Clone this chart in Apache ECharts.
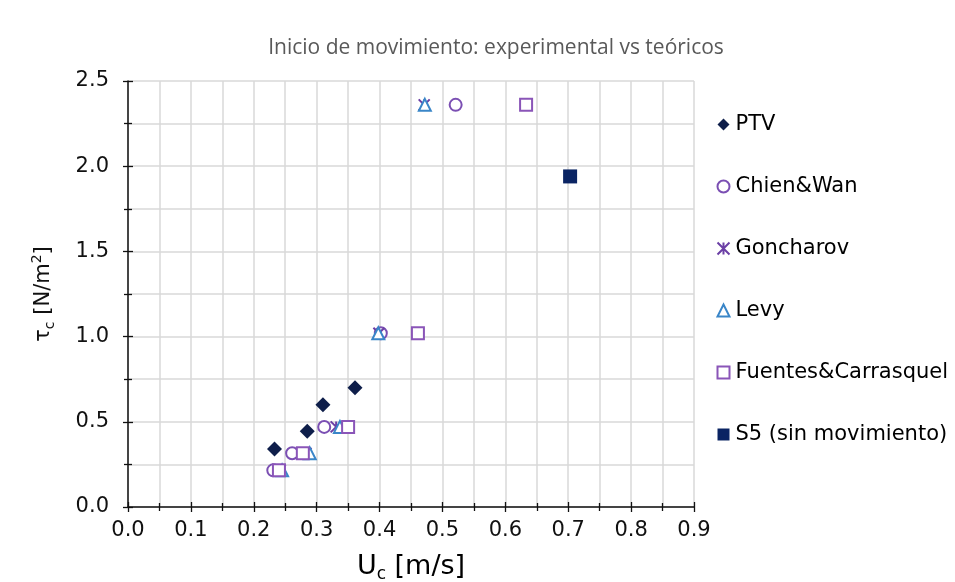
<!DOCTYPE html>
<html><head><meta charset="utf-8">
<script src="https://cdn.jsdelivr.net/npm/echarts@6/dist/echarts.min.js"></script>
<style>html,body{margin:0;padding:0;background:#fff}#c{width:955px;height:582px}</style>
</head><body><div id="c"></div>
<script>
const seriesNames = ['PTV','Chien&Wan','Goncharov','Levy','Fuentes&Carrasquel','S5 (sin movimiento)'];
const ptv = [[0.233,0.34],[0.285,0.445],[0.31,0.60],[0.361,0.70]];
const chienWan = [[0.521,2.36],[0.402,1.02],[0.312,0.47],[0.261,0.315],[0.231,0.215]];
const goncharov = [[0.471,2.36],[0.399,1.02],[0.331,0.47],[0.283,0.315],[0.242,0.215]];
const levy = [[0.472,2.36],[0.398,1.02],[0.337,0.47],[0.289,0.315],[0.245,0.215]];
const fuentes = [[0.633,2.36],[0.461,1.02],[0.350,0.47],[0.278,0.315],[0.240,0.215]];
const s5 = [[0.703,1.94]];
const xTicks = {min:0,max:0.9,interval:0.1};
const yTicks = {min:0,max:2.5,interval:0.5};

const font = 'DejaVu Sans';
const chart = echarts.init(document.getElementById('c'));
const starPath = 'path://M0,0L10,10M10,0L0,10M5,0L5,10';
chart.setOption({
  animation:false,
  title:{text:'Inicio de movimiento: experimental vs teóricos',left:491,top:33,textAlign:'center',
    textStyle:{fontFamily:'Open Sans',fontWeight:'normal',fontSize:21,color:'#595959'}},
  grid:{left:128,right:261,top:81,bottom:75,outerBoundsMode:'none',containLabel:false},
  legend:{orient:'vertical',left:710,top:109,itemGap:41,itemWidth:12,itemHeight:12,
    textStyle:{fontFamily:font,fontSize:21,color:'#000',padding:[0,0,0,1]},data:seriesNames},
  xAxis:[{type:'value',min:xTicks.min,max:xTicks.max,interval:xTicks.interval,
    name:'U{sub|c} [m/s]',nameLocation:'middle',nameGap:43,
    nameTextStyle:{fontFamily:font,fontSize:27,color:'#000',rich:{sub:{fontSize:17,verticalAlign:'bottom',padding:[16,0,0,0],fontFamily:font}}},
    axisLine:{show:true,lineStyle:{color:'#111',width:1.5}},
    axisTick:{show:true,length:5,lineStyle:{color:'#111',width:1.3}},
    minorTick:{show:true,splitNumber:2,length:4,lineStyle:{color:'#111',width:1.3}},
    axisLabel:{fontFamily:font,fontSize:21,color:'#111',margin:13,formatter:v=>v.toFixed(1)},
    splitLine:{show:true,lineStyle:{color:'#d9d9d9',width:1.5}},
    minorSplitLine:{show:true,lineStyle:{color:'#d9d9d9',width:1.5}}},
   {type:'value',min:xTicks.min,max:xTicks.max,interval:xTicks.interval,position:'bottom',
    axisLine:{show:false},axisTick:{show:true,inside:true,length:5,lineStyle:{color:'#111',width:1.3}},
    minorTick:{show:true,splitNumber:2,length:4,lineStyle:{color:'#111',width:1.3}},
    axisLabel:{show:false},splitLine:{show:false}}],
  yAxis:[{type:'value',min:yTicks.min,max:yTicks.max,interval:yTicks.interval,
    name:'τ{sub|c} [N/m{sup|2}]',nameLocation:'middle',nameGap:71,nameRotate:90,
    nameTextStyle:{fontFamily:font,fontSize:21,color:'#111',rich:{sub:{fontSize:14,verticalAlign:'bottom',padding:[13,0,0,0],fontFamily:font},sup:{fontSize:14,verticalAlign:'top',padding:[0,0,9,0],fontFamily:font}}},
    axisLine:{show:true,lineStyle:{color:'#111',width:1.5}},
    axisTick:{show:true,length:5,lineStyle:{color:'#111',width:1.3}},
    minorTick:{show:true,splitNumber:2,length:4,lineStyle:{color:'#111',width:1.3}},
    axisLabel:{fontFamily:font,fontSize:21,color:'#111',margin:19,formatter:v=>v.toFixed(1)},
    splitLine:{show:true,lineStyle:{color:'#d9d9d9',width:1.5}},
    minorSplitLine:{show:true,lineStyle:{color:'#d9d9d9',width:1.5}}},
   {type:'value',min:yTicks.min,max:yTicks.max,interval:yTicks.interval,position:'left',
    axisLine:{show:false},axisTick:{show:true,inside:true,length:5,lineStyle:{color:'#111',width:1.3}},
    minorTick:{show:true,splitNumber:2,length:4,lineStyle:{color:'#111',width:1.3}},
    axisLabel:{show:false},splitLine:{show:false}}],
  series:[
    {name:seriesNames[0],type:'scatter',data:ptv,symbol:'diamond',symbolSize:15,itemStyle:{color:'#0e1e4a',opacity:1},z:5},
    {name:seriesNames[1],type:'scatter',data:chienWan,symbol:'emptyCircle',symbolSize:12,itemStyle:{color:'#7b4fb3',borderWidth:1.8,opacity:1}},
    {name:seriesNames[2],type:'scatter',data:goncharov,symbol:starPath,symbolSize:11,itemStyle:{color:'none',borderColor:'#6b3fa5',borderWidth:2,opacity:1}},
    {name:seriesNames[3],type:'scatter',data:levy,symbol:'emptyTriangle',symbolSize:12,itemStyle:{color:'#3a86c8',borderWidth:1.8,opacity:1}},
    {name:seriesNames[4],type:'scatter',data:fuentes,symbol:'emptyRect',symbolSize:12,itemStyle:{color:'#8a55b8',borderWidth:1.8,opacity:1}},
    {name:seriesNames[5],type:'scatter',data:s5,symbol:'rect',symbolSize:14,itemStyle:{color:'#0a2463',opacity:1}}
  ]
});
</script></body></html>
